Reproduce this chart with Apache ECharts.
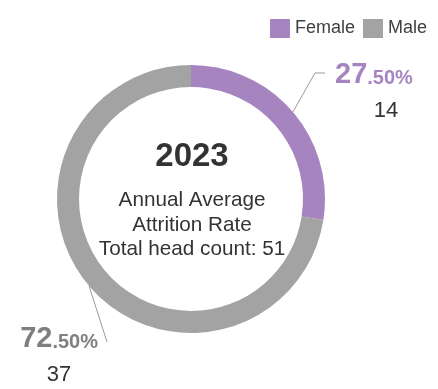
<!DOCTYPE html>
<html>
<head>
<meta charset="utf-8">
<script src="https://cdn.jsdelivr.net/npm/echarts@6/dist/echarts.min.js"></script>
<style>
  html, body { margin: 0; padding: 0; background: #ffffff; }
  #chart { width: 438px; height: 389px; }
</style>
</head>
<body>
<div id="chart"></div>
<script>
// Attrition split by gender for the year
const categories = ['Female', 'Male'];
const sharePercent = [27.5, 72.5];
const headCounts = [14, 37];
const yearLabel = '2023';
const centerLines = ['Annual Average', 'Attrition Rate', 'Total head count: 51'];

const FONT = '"Liberation Sans", Arial, Helvetica, sans-serif';
const ringColors = ['#a584c0', '#a3a3a3'];
const shareColors = ['#a584c0', '#7f7f7f'];
const ringCenter = [191, 199];

// where each slice's callout sits: female upper right, male lower left
const calloutSpots = [
  { x: 335, y: 58, align: 'left', lineY: 73, countShift: 24 },
  { x: 98, y: 322, align: 'right', lineY: 342, countShift: 0 }
];

const chart = echarts.init(document.getElementById('chart'), null, { renderer: 'canvas' });

function calloutRich(i) {
  return {
    big: { fontFamily: FONT, fontSize: 29, fontWeight: 'bold', color: shareColors[i], lineHeight: 34 },
    small: { fontFamily: FONT, fontSize: 20, fontWeight: 'bold', color: shareColors[i], lineHeight: 20, padding: [6, 0, 0, 0] },
    count: { fontFamily: FONT, fontSize: 22, color: '#333333', lineHeight: 38, align: 'center',
             padding: [0, 0, 0, calloutSpots[i].countShift] }
  };
}

const option = {
  animation: false,
  legend: {
    data: categories,
    top: 14,
    right: 6,
    icon: 'rect',
    itemWidth: 20,
    itemHeight: 19,
    itemGap: 8,
    selectedMode: false,
    textStyle: { fontFamily: FONT, fontSize: 18, color: '#404040' }
  },
  graphic: [
    {
      type: 'text',
      x: ringCenter[0] + 1,
      y: 157,
      silent: true,
      style: {
        text: yearLabel,
        font: 'bold 33px ' + FONT,
        fill: '#333333',
        align: 'center', textAlign: 'center',
        verticalAlign: 'middle', textVerticalAlign: 'middle'
      }
    },
    {
      type: 'text',
      x: ringCenter[0] + 1,
      y: 225,
      silent: true,
      style: {
        text: centerLines.join('\n'),
        font: '20.7px ' + FONT,
        lineHeight: 24.5,
        fill: '#333333',
        align: 'center', textAlign: 'center',
        verticalAlign: 'middle', textVerticalAlign: 'middle'
      }
    }
  ],
  series: [
    {
      type: 'pie',
      center: ringCenter,
      radius: [112, 134],
      startAngle: 90,
      clockwise: true,
      avoidLabelOverlap: false,
      emphasis: { disabled: true },
      data: categories.map((name, i) => ({
        name: name,
        value: sharePercent[i],
        itemStyle: { color: ringColors[i] },
        label: { rich: calloutRich(i) }
      })),
      label: {
        show: true,
        position: 'outside',
        formatter: (p) => {
          const parts = sharePercent[p.dataIndex].toFixed(2).split('.');
          return '{big|' + parts[0] + '}{small|.' + parts[1] + '%}\n{count|' + headCounts[p.dataIndex] + '}';
        }
      },
      labelLine: {
        show: true,
        length: 10,
        length2: 10,
        lineStyle: { color: '#999999', width: 1 }
      },
      labelLayout: (params) => {
        const spot = calloutSpots[params.dataIndex];
        const out = { x: spot.x, y: spot.y, align: spot.align, verticalAlign: 'top' };
        const pts = params.labelLinePoints;
        if (pts && pts.length) {
          const anchor = pts[0];
          const dy = Math.abs(spot.lineY - anchor[1]);
          let endX, bendX;
          if (spot.align === 'left') {
            endX = spot.x - 10;
            bendX = Math.min(anchor[0] + dy, endX - 10);
          } else {
            endX = spot.x + 9;
            bendX = Math.max(anchor[0] - dy, endX);
          }
          out.labelLinePoints = [anchor, [bendX, spot.lineY], [endX, spot.lineY]];
        }
        return out;
      }
    }
  ]
};

chart.setOption(option);
</script>
</body>
</html>
